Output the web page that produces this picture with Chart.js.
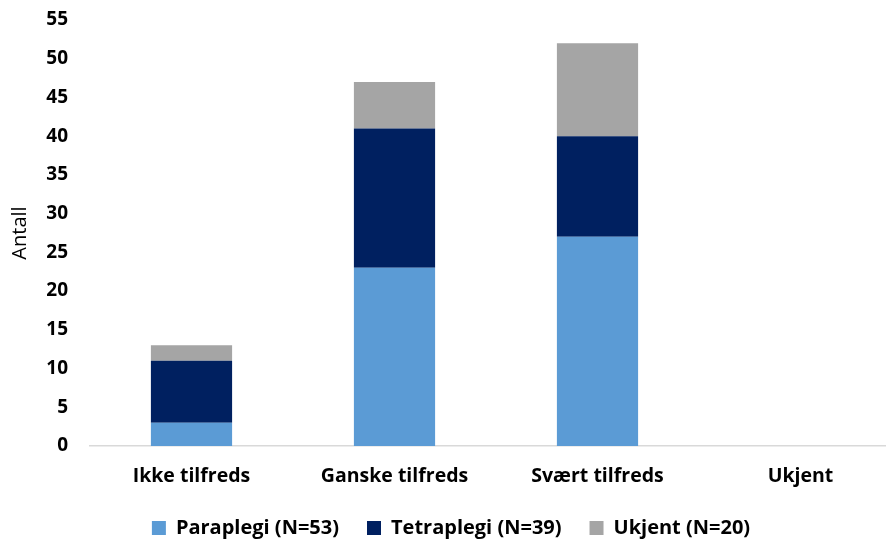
<!DOCTYPE html>
<html>
<head>
<meta charset="utf-8">
<script src="https://cdn.jsdelivr.net/npm/chart.js@4"></script>
<style>
html,body{margin:0;padding:0;overflow:hidden;background:#fff;}
#wrap{width:902px;height:543px;position:relative;}
</style>
</head>
<body>
<div id="wrap"><canvas id="c"></canvas></div>
<script>
const categories = ["Ikke tilfreds", "Ganske tilfreds", "Svært tilfreds", "Ukjent"];
const paraplegi = [3, 23, 27, 0];
const tetraplegi = [8, 18, 13, 0];
const ukjent = [2, 6, 12, 0];
const seriesLabels = ["Paraplegi (N=53)", "Tetraplegi (N=39)", "Ukjent (N=20)"];
const yTitle = "Antall";

const FONT = "'Open Sans', sans-serif";

new Chart(document.getElementById('c'), {
  type: 'bar',
  data: {
    labels: categories,
    datasets: [
      {label: seriesLabels[0], data: paraplegi, backgroundColor: '#5B9BD5', categoryPercentage: 0.8, barPercentage: 0.5},
      {label: seriesLabels[1], data: tetraplegi, backgroundColor: '#002060', categoryPercentage: 0.8, barPercentage: 0.5},
      {label: seriesLabels[2], data: ukjent, backgroundColor: '#A5A5A5', categoryPercentage: 0.8, barPercentage: 0.5}
    ]
  },
  options: {
    responsive: true,
    maintainAspectRatio: false,
    animation: false,
    layout: {autoPadding: false, padding: {top: 20, left: 0, right: 0, bottom: -5}},
    plugins: {
      legend: {
        position: 'bottom',
        labels: {
          font: {family: FONT, size: 20, weight: 'bold'},
          color: '#000',
          boxWidth: 14, boxHeight: 14,
          padding: 28
        }
      },
      tooltip: {enabled: false}
    },
    scales: {
      x: {
        stacked: true,
        grid: {display: false, drawTicks: false},
        border: {display: true, color: '#D9D9D9', width: 1.5},
        ticks: {font: {family: FONT, size: 19.5, weight: 'bold'}, color: '#000', padding: 19, maxRotation: 0},
        afterFit: (s) => { s.height = 44; }
      },
      y: {
        stacked: true,
        min: 0, max: 55,
        grid: {display: false, drawTicks: false},
        border: {display: false},
        ticks: {stepSize: 5, font: {family: FONT, size: 19, weight: 'bold'}, color: '#000', padding: 22},
        title: {display: true, text: yTitle, font: {family: FONT, size: 20}, color: '#000', padding: {top: 8, bottom: 0}},
        afterFit: (s) => { s.width = 90; s.paddingTop = 0; s.paddingBottom = 0; }
      }
    }
  }
});
</script>
</body>
</html>
